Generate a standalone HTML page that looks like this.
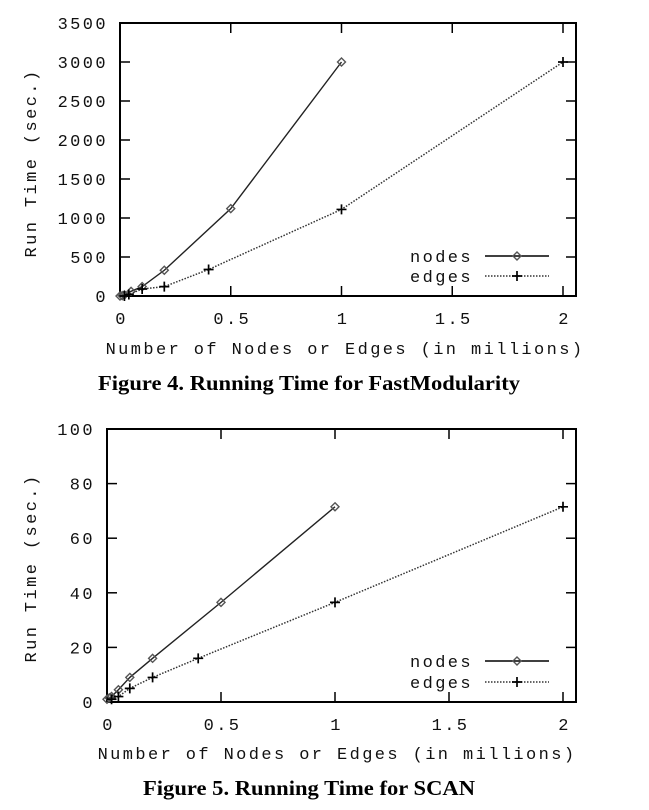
<!DOCTYPE html>
<html><head><meta charset="utf-8"><style>
html,body{margin:0;padding:0;background:#fff;width:649px;height:810px;overflow:hidden}
svg text.m{font-family:"Liberation Mono",monospace;font-size:17px;letter-spacing:2.4px;fill:#111}
svg text.c{font-family:"Liberation Serif",serif;font-weight:bold;font-size:21px;fill:#000}
</style></head><body>
<svg id="s" width="649" height="810" xmlns="http://www.w3.org/2000/svg"></svg>
<script>
// Figure 4 data
const fig4NodesX = [0, 0.01, 0.02, 0.05, 0.1, 0.2, 0.5, 1];
const fig4NodesY = [0, 5, 15, 60, 120, 330, 1120, 3000];
const fig4EdgesX = [0.02, 0.04, 0.1, 0.2, 0.4, 1, 2];
const fig4EdgesY = [0, 20, 90, 120, 340, 1110, 3000];
const fig4YTicks = [0, 500, 1000, 1500, 2000, 2500, 3000, 3500];
// Figure 5 data
const fig5NodesX = [0, 0.01, 0.02, 0.05, 0.1, 0.2, 0.5, 1];
const fig5NodesY = [1, 1.5, 2, 4.5, 9, 16, 36.5, 71.5];
const fig5EdgesX = [0.02, 0.05, 0.1, 0.2, 0.4, 1, 2];
const fig5EdgesY = [1, 2, 5, 9, 16, 36.5, 71.5];
const fig5YTicks = [0, 20, 40, 60, 80, 100];
const xTicks = [0, 0.5, 1, 1.5, 2];
const xTickLabels = ["0", "0.5", "1", "1.5", "2"];

const NS = "http://www.w3.org/2000/svg";
const svg = document.getElementById('s');
function mk(tag, attrs, parent, text) {
  const e = document.createElementNS(NS, tag);
  for (const k in attrs) e.setAttribute(k, attrs[k]);
  if (text !== undefined) e.textContent = text;
  (parent || svg).appendChild(e);
  return e;
}
function diamond(g, x, y) {
  return mk('path', {d:`M${x} ${y-4}L${x+4} ${y}L${x} ${y+4}L${x-4} ${y}Z`, fill:'none', stroke:'#555', 'stroke-width':1.4}, g);
}
function plus(g, x, y) {
  return mk('path', {d:`M${x-5} ${y}H${x+5}M${x} ${y-5}V${y+5}`, stroke:'#000', 'stroke-width':1.7}, g);
}
function chart(c) {
  const g = mk('g', {});
  
  
  const sx = v => c.x0 + (v - 0) / 2 * (c.x2 - c.x0);
  const sy = v => c.yb - v / c.ymax * (c.yb - c.yt);
  const frame = mk('rect', {x:c.left, y:c.yt, width:c.right-c.left, height:c.yb-c.yt, fill:'none', stroke:'#000', 'stroke-width':2}, g);
  
  
  c.yTicks.forEach(t => {
    const y = sy(t);
    mk('line', {x1:c.left, x2:c.left+10, y1:y, y2:y, stroke:'#000', 'stroke-width':1.5}, g);
    mk('line', {x1:c.right, x2:c.right-10, y1:y, y2:y, stroke:'#000', 'stroke-width':1.5}, g);
    const tl = mk('text', {class:'m', x:c.left-12, y:y+6, 'text-anchor':'end'}, g, String(t));
    
    
  });
  xTicks.forEach((t, i) => {
    const x = sx(t);
    mk('line', {x1:x, x2:x, y1:c.yb, y2:c.yb-10, stroke:'#000', 'stroke-width':1.5}, g);
    mk('line', {x1:x, x2:x, y1:c.yt, y2:c.yt+10, stroke:'#000', 'stroke-width':1.5}, g);
    const tl = mk('text', {class:'m', x:x+1.5, y:c.yb+28, 'text-anchor':'middle'}, g, xTickLabels[i]);
    
    
  });
  const xt = mk('text', {class:'m', x:c.xtx, y:c.xty, 'text-anchor':'middle'}, g, 'Number of Nodes or Edges (in millions)');
  
  
  const yt = mk('text', {class:'m', x:0, y:0, 'text-anchor':'middle', transform:`translate(${c.ytx},${c.yty}) rotate(-90)`}, g, 'Run Time (sec.)');
  
  
  const np = c.nx.map((v, i) => sx(v) + ',' + sy(c.ny[i])).join(' ');
  const nl = mk('polyline', {points:np, fill:'none', stroke:'#222', 'stroke-width':1.4}, g);
  
  
  c.nx.forEach((v, i) => {
    const d = diamond(g, sx(v), sy(c.ny[i]));
    
    
  });
  const ep = c.ex.map((v, i) => sx(v) + ',' + sy(c.ey[i])).join(' ');
  const el = mk('polyline', {points:ep, fill:'none', stroke:'#333', 'stroke-width':1.5, 'stroke-dasharray':'1.5 1.5'}, g);
  
  
  c.ex.forEach((v, i) => {
    const p = plus(g, sx(v), sy(c.ey[i]));
    
    
  });
  const lg = mk('g', {}, g);
  
  
  const l1 = mk('text', {class:'m', x:473, y:c.ly1+6, 'text-anchor':'end'}, lg, 'nodes');
  
  
  mk('line', {x1:485, x2:549, y1:c.ly1, y2:c.ly1, stroke:'#000', 'stroke-width':1.6}, lg);
  diamond(lg, 517, c.ly1);
  const l2 = mk('text', {class:'m', x:473, y:c.ly2+6, 'text-anchor':'end'}, lg, 'edges');
  
  
  mk('line', {x1:485, x2:549, y1:c.ly2, y2:c.ly2, stroke:'#333', 'stroke-width':1.5, 'stroke-dasharray':'1.5 1.5'}, lg);
  plus(lg, 517, c.ly2);
  const cap = mk('text', {class:'c', x:309, y:c.capy, 'text-anchor':'middle', textLength:c.capw, lengthAdjust:'spacingAndGlyphs'}, g, c.caption);
  
  
}
chart({name:'fastmodularity-chart', left:120, right:576, yt:23, yb:296, x0:120, x2:563, ymax:3500,
  yTicks:fig4YTicks, nx:fig4NodesX, ny:fig4NodesY, ex:fig4EdgesX, ey:fig4EdgesY,
  xtx:345, xty:354, ytx:36, yty:163, ly1:256, ly2:276, capy:390, capw:422,
  caption:'Figure 4. Running Time for FastModularity'});
chart({name:'scan-chart', left:107, right:576, yt:429, yb:702, x0:107, x2:563, ymax:100,
  yTicks:fig5YTicks, nx:fig5NodesX, ny:fig5NodesY, ex:fig5EdgesX, ey:fig5EdgesY,
  xtx:337, xty:759, ytx:36, yty:568, ly1:661, ly2:682, capy:795, capw:332,
  caption:'Figure 5. Running Time for SCAN'});
</script>
</body></html>
